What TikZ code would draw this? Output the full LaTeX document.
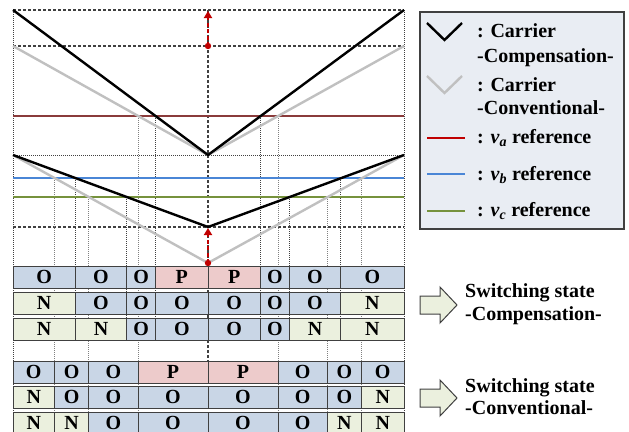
\documentclass[tikz,border=0pt]{standalone}
\usepackage{fontspec}
\setmainfont{Liberation Serif}
\usetikzlibrary{arrows.meta}
\definecolor{cO}{HTML}{C9D6E6}
\definecolor{cN}{HTML}{EBF0DE}
\definecolor{cP}{HTML}{EDCBCB}
\definecolor{grayc}{HTML}{C0C0C0}
\definecolor{varef}{HTML}{8A3B3B}
\definecolor{vbref}{HTML}{4A86D6}
\definecolor{vcref}{HTML}{76923C}
\definecolor{legred}{HTML}{C00000}
\definecolor{arrred}{HTML}{C00000}
\definecolor{legbg}{HTML}{E9EDF3}
\definecolor{dk}{HTML}{404040}
\begin{document}
\begin{tikzpicture}[x=1pt,y=-1pt,
  dashl/.style={dk,line width=1.2pt,dash pattern=on 3pt off 2pt},
  dotl/.style={dk,line width=0.8pt,dash pattern=on 1pt off 1pt},
  dotg/.style={gray,line width=0.8pt,dash pattern=on 1pt off 1pt},
  carrc/.style={black,line width=2.4pt},
  carrg/.style={grayc,line width=2.4pt},
  refl/.style={line width=2.4pt},
  reddash/.style={arrred,line width=2pt,dash pattern=on 4pt off 2.5pt},
  cellbox/.style={draw=dk,line width=0.9pt},
  cellt/.style={inner sep=0pt,font=\fontsize{20}{24}\selectfont\bfseries},
  txt/.style={inner sep=0pt,anchor=base west,font=\fontsize{20}{24}\selectfont\bfseries},
  barrow/.style={draw=dk,line width=1pt,fill=cN}]
\useasboundingbox (0,0) rectangle (629,431);
% grid
\draw[dashl] (13,10) -- (404,10);
\draw[dashl] (13,46) -- (404,46);
\draw[dotl] (13,155) -- (404,155);
\draw[dashl] (13,227) -- (404,227);
\draw[dotl] (13,10) -- (13,431);
\draw[dotl] (404,10) -- (404,431);
\draw[dashl] (208,10) -- (208,361);
% compensation verticals
\foreach \x/\y in {155.6/116,260.4/116,75.3/178,340.7/178,126.7/197,289.3/197}
  \draw[dotl] (\x,\y) -- (\x,340);
% conventional verticals
\foreach \x/\y in {138/116,278/116,54.5/178,361.5/178,88.8/197,327.2/197}
  \draw[dotg] (\x,\y) -- (\x,431);
% references
\draw[refl,varef] (13,116) -- (404,116);
\draw[refl,vbref] (13,178) -- (404,178);
\draw[refl,vcref] (13,197) -- (404,197);
% carriers
\draw[carrg] (13,46) -- (208,155) -- (404,46);
\draw[carrc] (13,10) -- (208,155) -- (404,10);
\draw[carrg] (13,155) -- (208,263) -- (404,155);
\draw[carrc] (13,155) -- (208,227) -- (404,155);
% red arrows
\coordinate (u0) at (208,46); \coordinate (u1) at (208,11);
\coordinate (l0) at (208,263); \coordinate (l1) at (208,228);
\draw[reddash,-{Triangle[width=8pt,length=7pt]}] (u0) -- (u1);
\draw[reddash,-{Triangle[width=8pt,length=7pt]}] (l0) -- (l1);
\fill[arrred] (u0) circle (3.2);
\fill[arrred] (l0) circle (3.2);
% compensation rows
\foreach \xa/\xb/\s [count=\i] in {13/75.3/O,75.3/126.7/O,126.7/155.6/O,155.6/208/P,208/260.4/P,260.4/289.3/O,289.3/340.7/O,340.7/404/O}
  {\draw[cellbox,fill=c\s] (\xa,266) rectangle (\xb,288); \node[cellt] (a\i) at ({(\xa+\xb)/2},277) {\s};}
\foreach \xa/\xb/\s [count=\i] in {13/75.3/N,75.3/126.7/O,126.7/155.6/O,155.6/208/O,208/260.4/O,260.4/289.3/O,289.3/340.7/O,340.7/404/N}
  {\draw[cellbox,fill=c\s] (\xa,292) rectangle (\xb,314); \node[cellt] (b\i) at ({(\xa+\xb)/2},303) {\s};}
\foreach \xa/\xb/\s [count=\i] in {13/75.3/N,75.3/126.7/N,126.7/155.6/O,155.6/208/O,208/260.4/O,260.4/289.3/O,289.3/340.7/N,340.7/404/N}
  {\draw[cellbox,fill=c\s] (\xa,318) rectangle (\xb,340); \node[cellt] (c\i) at ({(\xa+\xb)/2},329) {\s};}
% conventional rows
\foreach \xa/\xb/\s [count=\i] in {13/54.5/O,54.5/88.8/O,88.8/138/O,138/208/P,208/278/P,278/327.2/O,327.2/361.5/O,361.5/404/O}
  {\draw[cellbox,fill=c\s] (\xa,361) rectangle (\xb,383); \node[cellt] (d\i) at ({(\xa+\xb)/2},372) {\s};}
\foreach \xa/\xb/\s [count=\i] in {13/54.5/N,54.5/88.8/O,88.8/138/O,138/208/O,208/278/O,278/327.2/O,327.2/361.5/O,361.5/404/N}
  {\draw[cellbox,fill=c\s] (\xa,386) rectangle (\xb,408); \node[cellt] (e\i) at ({(\xa+\xb)/2},397) {\s};}
\foreach \xa/\xb/\s [count=\i] in {13/54.5/N,54.5/88.8/N,88.8/138/O,138/208/O,208/278/O,278/327.2/O,327.2/361.5/N,361.5/404/N}
  {\draw[cellbox,fill=c\s] (\xa,412) rectangle (\xb,434); \node[cellt] (f\i) at ({(\xa+\xb)/2},423) {\s};}
% legend
\draw[dk,line width=1.2pt,fill=legbg] (420,12) rectangle (624,229);
\draw[carrc] (427,23) -- (444.5,40) -- (462,23);
\draw[carrg] (427,76) -- (444.5,93) -- (462,76);
\draw[refl,legred] (427,138) -- (465,138);
\draw[refl,vbref] (427,174) -- (465,174);
\draw[refl,vcref] (427,211) -- (465,211);
\node[txt] (t1) at (477,37) {: Carrier};
\node[txt] (t2) at (477,62) {-Compensation-};
\node[txt] (t3) at (477,91) {: Carrier};
\node[txt] (t4) at (477,114) {-Conventional-};
\node[txt] (t5) at (477,143) {: \textit{v}\textsubscript{\textit{a}} reference};
\node[txt] (t6) at (477,180) {: \textit{v}\textsubscript{\textit{b}} reference};
\node[txt] (t7) at (477,216) {: \textit{v}\textsubscript{\textit{c}} reference};
% switching state arrows
\draw[barrow] (420,296) -- (440,296) -- (440,287) -- (457,305) -- (440,323) -- (440,314) -- (420,314) -- cycle;
\draw[barrow] (420,389) -- (440,389) -- (440,380) -- (457,398) -- (440,416) -- (440,407) -- (420,407) -- cycle;
\node[txt] (s1) at (465,297) {Switching state};
\node[txt] (s2) at (465,320) {-Compensation-};
\node[txt] (s3) at (465,392) {Switching state};
\node[txt] (s4) at (465,414) {-Conventional-};
\end{tikzpicture}
\end{document}
